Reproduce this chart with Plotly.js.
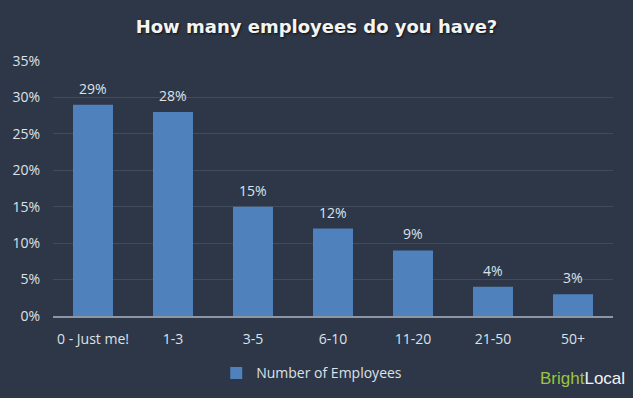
<!DOCTYPE html>
<html><head><meta charset="utf-8">
<script src="https://cdn.plot.ly/plotly-3.0.1.min.js"></script>
<style>html,body{margin:0;padding:0;background:#2e3747;}#chart{width:633px;height:398px;}</style>
</head><body><div id="chart"></div>
<script>
var categories = ["0 - Just me!", "1-3", "3-5", "6-10", "11-20", "21-50", "50+"];
var values = [29, 28, 15, 12, 9, 4, 3];
var seriesName = "Number of Employees";
var tickVals = [0, 5, 10, 15, 20, 25, 30, 35];
var tickText = ["0%", "5%", "10%", "15%", "20%", "25%", "30%", "35%"];

var labelColor = "#dde1e8";
var baseFont = "Open Sans, sans-serif";

var trace = {
  type: "bar",
  x: categories,
  y: values,
  name: seriesName,
  marker: {color: "#4f81bd"},
  width: 0.5,
  showlegend: true,
  hoverinfo: "skip"
};

var annotations = categories.map(function(c, i){
  return {
    x: c, y: values[i], xref: "x", yref: "y",
    text: values[i] + "%", showarrow: false,
    yanchor: "bottom", yshift: 5,
    font: {size: 14, color: labelColor, family: baseFont}
  };
});
annotations.push({
  xref: "paper", yref: "paper", x: 1.025, y: -0.245, xanchor: "right", yanchor: "middle",
  text: "<span style='color:#9bc53d'>Bright</span><span style='color:#f2f2f2'>Local</span>",
  showarrow: false, font: {size: 17, family: "Liberation Sans Narrow, Arial Narrow, sans-serif"}
});

var layout = {
  width: 633, height: 398,
  paper_bgcolor: "#2e3747",
  plot_bgcolor: "#2e3747",
  margin: {l: 53, r: 20, t: 61, b: 82, autoexpand: false},
  title: {
    text: "<b>How many employees do you have?</b>",
    x: 0.5, xanchor: "center", y: 0.932, yanchor: "middle",
    font: {color: "#f4f4f4", size: 18, family: "DejaVu Sans, sans-serif", shadow: "1px 1px 2px #111"}
  },
  font: {family: baseFont, color: labelColor, size: 14},
  xaxis: {
    type: "category",
    showgrid: false,
    showline: true, linecolor: "#8d96a3", linewidth: 2,
    ticks: "", tickfont: {size: 14, color: labelColor},
    ticklabelstandoff: 9
  },
  yaxis: {
    range: [0, 35],
    tickvals: tickVals, ticktext: tickText,
    showgrid: true, gridcolor: "#414b5b", gridwidth: 1,
    zeroline: false, showline: false,
    ticks: "", tickfont: {size: 14, color: labelColor},
    ticklabelstandoff: 12
  },
  legend: {
    orientation: "h", x: 0.462, xanchor: "center", y: -0.225, yanchor: "middle",
    font: {size: 14, color: labelColor}, bgcolor: "rgba(0,0,0,0)"
  },
  annotations: annotations
};

Plotly.newPlot("chart", [trace], layout, {displayModeBar: false, staticPlot: true});
</script>
</body></html>
